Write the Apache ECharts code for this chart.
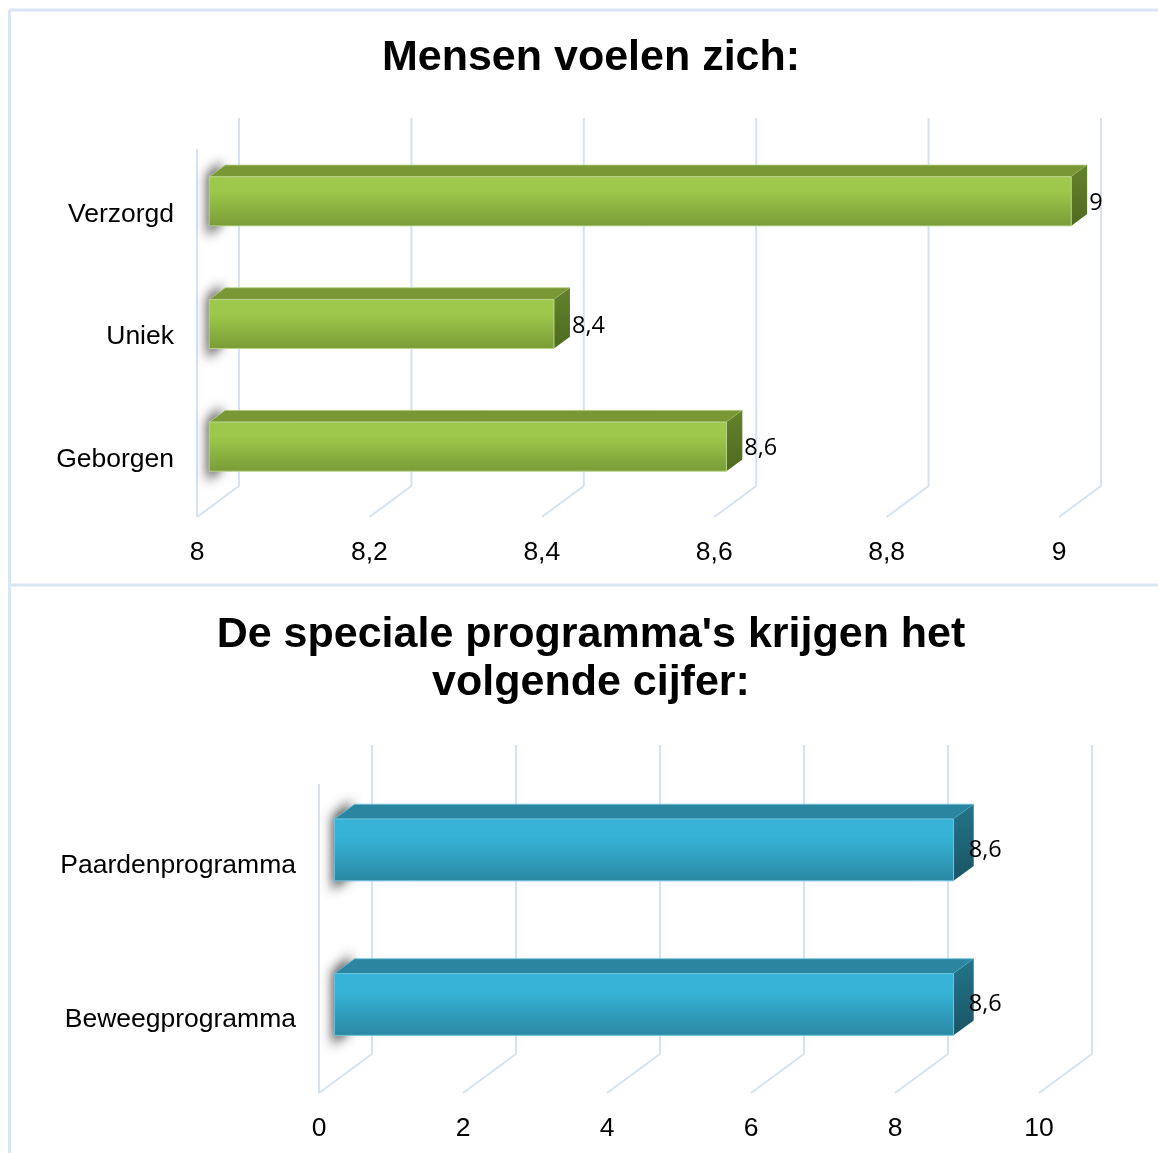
<!DOCTYPE html>
<html>
<head>
<meta charset="utf-8">
<script src="https://cdn.jsdelivr.net/npm/echarts@6/dist/echarts.min.js"></script>
<style>
  html, body { margin: 0; padding: 0; background: #fff; }
  #chart { width: 1158px; height: 1153px; }
</style>
</head>
<body>
<div id="chart"></div>
<script>
// bovenste grafiek
const categoriesTop = ['Verzorgd', 'Uniek', 'Geborgen'];
const valuesTop = [9, 8.4, 8.6];
const ticksTop = [8, 8.2, 8.4, 8.6, 8.8, 9];

// onderste grafiek
const categoriesBottom = ['Paardenprogramma', 'Beweegprogramma'];
const valuesBottom = [8.6, 8.6];
const ticksBottom = [0, 2, 4, 6, 8, 10];

const GRID_COLOR = '#d5e2f4';
const TEXT_FONT = 'Liberation Sans, Arial, sans-serif';
const FAR = 3000; // schaduwvorm buiten beeld, alleen de vervaagde schaduw is zichtbaar

const fmt = v => String(Math.round(v * 10) / 10).replace('.', ',');

const chart = echarts.init(document.getElementById('chart'));

// 3D "wanden": achterlijnen + vloerdiagonalen per tick
function wallSeries(idx, ticks, depth) {
  return {
    type: 'custom',
    xAxisIndex: idx,
    yAxisIndex: idx,
    coordinateSystem: 'cartesian2d',
    clip: false,
    silent: true,
    z: 1,
    data: ticks.map(t => [t, 0]),
    renderItem: (params, api) => {
      const cs = params.coordSys;
      const x = api.coord([api.value(0), 0])[0];
      const top = cs.y, bottom = cs.y + cs.height;
      const st = { stroke: GRID_COLOR, lineWidth: 2 };
      const children = [
        { type: 'line', shape: { x1: x + depth[0], y1: top + depth[1], x2: x + depth[0], y2: bottom + depth[1] }, style: st },
        { type: 'line', shape: { x1: x, y1: bottom, x2: x + depth[0], y2: bottom + depth[1] }, style: st }
      ];
      if (params.dataIndex === 0) {
        children.push({ type: 'line', shape: { x1: x, y1: top, x2: x, y2: bottom }, style: st });
      }
      return { type: 'group', children };
    }
  };
}

// 3D balken: voorvlak, bovenvlak, zijvlak + schaduw op de linkerwand
function barSeries(idx, values, axisMin, depth, colors, labelDx, labelDy) {
  const f1 = 0.29, f2 = 0.67;
  return {
    type: 'custom',
    xAxisIndex: idx,
    yAxisIndex: idx,
    coordinateSystem: 'cartesian2d',
    clip: false,
    z: 2,
    data: values.map((v, i) => [v, i]),
    renderItem: (params, api) => {
      const v = api.value(0), cat = api.value(1);
      const start = api.coord([axisMin, cat]);
      const end = api.coord([v, cat]);
      const band = api.size([0, 1])[1];
      const h = band * 0.4;
      const x0 = start[0] + depth[0] * f1;
      const x1 = end[0] + depth[0] * f1;
      const yc = start[1] + depth[1] * f1;
      const y0 = yc - h / 2, y1 = yc + h / 2;
      const bx = depth[0] * (f2 - f1), by = depth[1] * (f2 - f1);
      return {
        type: 'group',
        children: [
          {
            type: 'polygon',
            shape: {
              points: [
                [x0 - 2 - FAR, y0 - 2], [x0 + bx - 4 - FAR, y0 + by - 4],
                [x0 + bx - 4 - FAR, y1 + by + 10], [x0 - 2 - FAR, y1 + 10]
              ]
            },
            style: { fill: '#000', shadowBlur: 12, shadowColor: 'rgba(0,0,0,0.7)', shadowOffsetX: FAR, shadowOffsetY: 0 }
          },
          {
            type: 'polygon',
            shape: { points: [[x0, y0], [x0 + bx, y0 + by], [x1 + bx, y0 + by], [x1, y0]] },
            style: { fill: colors.top, stroke: colors.edge, lineWidth: 0.8 }
          },
          {
            type: 'polygon',
            shape: { points: [[x1, y0], [x1 + bx, y0 + by], [x1 + bx, y1 + by], [x1, y1]] },
            style: {
              fill: new echarts.graphic.LinearGradient(0, 0, 1, 1, [
                { offset: 0, color: colors.side[0] },
                { offset: 1, color: colors.side[1] }
              ])
            }
          },
          {
            type: 'rect',
            shape: { x: x0, y: y0, width: x1 - x0, height: y1 - y0 },
            style: {
              fill: new echarts.graphic.LinearGradient(0, 0, 0, 1, [
                { offset: 0, color: colors.front[0] },
                { offset: 0.3, color: colors.front[0] },
                { offset: 1, color: colors.front[1] }
              ]),
              stroke: colors.edge,
              lineWidth: 1
            }
          },
          {
            type: 'text',
            style: {
              text: fmt(v),
              x: x1 + bx + labelDx,
              y: yc + labelDy,
              align: 'left',
              verticalAlign: 'middle',
              fontSize: 23.5,
              fontFamily: 'Open Sans, sans-serif',
              fill: '#000'
            }
          }
        ]
      };
    }
  };
}

const green = { front: ['#9dc84b', '#7a9b37'], top: '#7a9735', side: ['#65842c', '#4d6920'], edge: '#b9d48a' };
const teal = { front: ['#36b3d7', '#2a88a2'], top: '#2a86a0', side: ['#23768c', '#1a5363'], edge: '#6cc2dc' };

const depthTop = [42, -31];
const depthBottom = [53, -39];

const axisLabelStyle = { fontSize: 26.5, color: '#000', fontFamily: TEXT_FONT };
// categorie-labels iets lager dan het midden van de band
const catLabel = {
  margin: 23,
  formatter: v => '{c|' + v + '}',
  rich: { c: Object.assign({ padding: [8, 0, 0, 0] }, axisLabelStyle) }
};

const option = {
  animation: false,
  backgroundColor: '#fff',
  title: [
    {
      text: 'Mensen voelen zich:',
      left: 586, top: 29, textAlign: 'center',
      textStyle: { fontSize: 43, fontWeight: 'bold', color: '#000', fontFamily: TEXT_FONT, lineHeight: 49 }
    },
    {
      text: "De speciale programma's krijgen het\nvolgende cijfer:",
      left: 586, top: 606, textAlign: 'center',
      textStyle: { fontSize: 43, fontWeight: 'bold', color: '#000', fontFamily: TEXT_FONT, lineHeight: 48 }
    }
  ],
  graphic: [
    { type: 'line', shape: { x1: 9.5, y1: 10, x2: 9.5, y2: 1153 }, style: { stroke: '#dbe5f3', lineWidth: 3 } },
    { type: 'line', shape: { x1: 9, y1: 10, x2: 1158, y2: 10 }, style: { stroke: '#dbe5f3', lineWidth: 3 } },
    { type: 'line', shape: { x1: 9, y1: 585, x2: 1158, y2: 585 }, style: { stroke: '#dbe5f3', lineWidth: 3 } }
  ],
  grid: [
    { left: 197, right: 99, top: 149, height: 368 },
    { left: 319, right: 119, top: 784, height: 309 }
  ],
  xAxis: [
    {
      type: 'value', gridIndex: 0,
      min: ticksTop[0], max: ticksTop[ticksTop.length - 1], interval: 0.2,
      axisLine: { show: false }, axisTick: { show: false }, splitLine: { show: false },
      axisLabel: Object.assign({ margin: 22, formatter: fmt }, axisLabelStyle)
    },
    {
      type: 'value', gridIndex: 1,
      min: ticksBottom[0], max: ticksBottom[ticksBottom.length - 1], interval: 2,
      axisLine: { show: false }, axisTick: { show: false }, splitLine: { show: false },
      axisLabel: Object.assign({ margin: 22, formatter: fmt }, axisLabelStyle)
    }
  ],
  yAxis: [
    {
      type: 'category', gridIndex: 0, data: categoriesTop, inverse: true,
      axisLine: { show: false }, axisTick: { show: false }, splitLine: { show: false },
      axisLabel: catLabel
    },
    {
      type: 'category', gridIndex: 1, data: categoriesBottom, inverse: true,
      axisLine: { show: false }, axisTick: { show: false }, splitLine: { show: false },
      axisLabel: catLabel
    }
  ],
  series: [
    wallSeries(0, ticksTop, depthTop),
    barSeries(0, valuesTop, ticksTop[0], depthTop, green, 2, 2),
    wallSeries(1, ticksBottom, depthBottom),
    barSeries(1, valuesBottom, ticksBottom[0], depthBottom, teal, -5, 0)
  ]
};

chart.setOption(option);
</script>
</body>
</html>
